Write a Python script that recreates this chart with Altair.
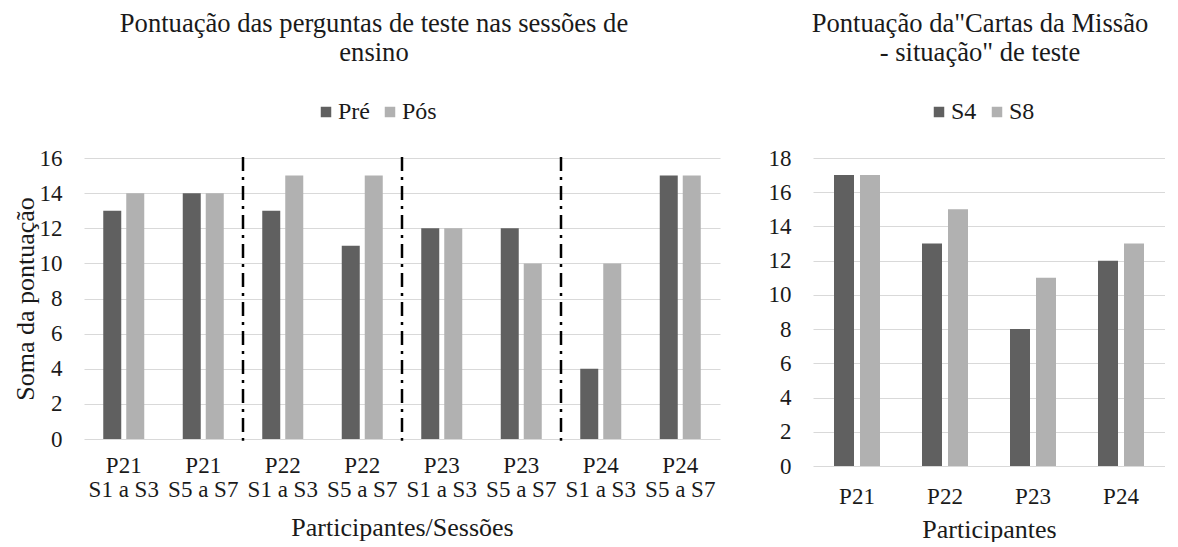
import altair as alt
import pandas as pd

# ---------------- data ----------------
left_categories = ["P21|S1 a S3", "P21|S5 a S7", "P22|S1 a S3", "P22|S5 a S7",
                   "P23|S1 a S3", "P23|S5 a S7", "P24|S1 a S3", "P24|S5 a S7"]
left_series = ["Pré", "Pós"]
pre_scores = [13, 14, 13, 11, 12, 12, 4, 15]
pos_scores = [14, 14, 15, 15, 12, 10, 10, 15]
divider_after = ["P21|S5 a S7", "P22|S5 a S7", "P23|S5 a S7"]

right_categories = ["P21", "P22", "P23", "P24"]
right_series = ["S4", "S8"]
s4_scores = [17, 13, 8, 12]
s8_scores = [17, 15, 11, 13]

left_y_ticks = [0, 2, 4, 6, 8, 10, 12, 14, 16]
right_y_ticks = [0, 2, 4, 6, 8, 10, 12, 14, 16, 18]

left_title = ["Pontuação das perguntas de teste nas sessões de", "ensino"]
right_title = ["Pontuação da\"Cartas da Missão", "- situação\" de teste"]

# ---------------- tables ----------------
pre_df = pd.DataFrame({"cat": left_categories, "serie": "Pré", "value": pre_scores})
pos_df = pd.DataFrame({"cat": left_categories, "serie": "Pós", "value": pos_scores})
div_df = pd.DataFrame({"cat": divider_after})
s4_df = pd.DataFrame({"cat": right_categories, "serie": "S4", "value": s4_scores})
s8_df = pd.DataFrame({"cat": right_categories, "serie": "S8", "value": s8_scores})

FONT = "Liberation Serif, Times New Roman, Times, serif"
DARK = "#606060"
LIGHT = "#b1b1b1"
TXT = "#1a1a1a"
GRID = "#d9d9d9"
FS = 23        # tick / category labels
LFS = 24       # legend labels
AFS = 26       # axis titles
TFS = 26.6     # chart titles

L_W, L_H = 636, 281
R_W, R_H = 352, 308
L_STEP = L_W / 8
PI = 0.5
EDGE_SHIFT = L_STEP * PI / 2


def y_axis(values, title):
    return alt.Axis(values=values, title=title, grid=True, gridColor=GRID, gridWidth=1,
                    domain=False, ticks=False, tickSize=0, labelPadding=22,
                    labelOverlap=False, labelFont=FONT, labelFontSize=FS, labelColor=TXT,
                    titleFont=FONT, titleFontSize=AFS, titleFontWeight="normal",
                    titleColor=TXT, titlePadding=1)


def x_axis(title, label_pad, title_pad, multiline):
    extra = {"labelExpr": "split(datum.label, '|')", "labelLineHeight": 24} if multiline else {}
    return alt.Axis(title=title, labelAngle=0, domain=False, ticks=False, tickSize=0,
                    labelPadding=label_pad, labelFont=FONT, labelFontSize=FS,
                    labelColor=TXT, titleFont=FONT, titleFontSize=AFS,
                    titleFontWeight="normal", titleColor=TXT, titlePadding=title_pad,
                    **extra)


def legend(x, y):
    return alt.Legend(orient="none", legendX=x, legendY=y, direction="horizontal",
                      title=None, symbolType="square", symbolSize=110,
                      symbolStrokeWidth=0, labelFont=FONT, labelFontSize=LFS,
                      labelColor=TXT, labelOffset=0, columnPadding=8)


def title(text, dx):
    return alt.TitleParams(text, font=FONT, fontSize=TFS, fontWeight="normal",
                           color=TXT, anchor="middle", dx=dx, offset=33, lineHeight=29)


def bar_layer(df, cats, series, domain_max, ticks, ytitle, xax, leg, bw, shift):
    return alt.Chart(df).mark_bar(width=bw, xOffset=shift).encode(
        x=alt.X("cat:N", sort=cats,
                scale=alt.Scale(domain=cats, paddingInner=PI, paddingOuter=PI / 2),
                axis=xax),
        y=alt.Y("value:Q", scale=alt.Scale(domain=[0, domain_max], nice=False),
                axis=y_axis(ticks, ytitle)),
        color=alt.Color("serie:N", sort=series,
                        scale=alt.Scale(domain=series, range=[DARK, LIGHT]),
                        legend=leg),
    )


# ---------------- left chart ----------------
lxa = x_axis("Participantes/Sessões", 15, 13, True)
left_pre = bar_layer(pre_df, left_categories, left_series, 16, left_y_ticks,
                     "Soma da pontuação", lxa, legend(230, -58), 18, -11.5)
left_pos = bar_layer(pos_df, left_categories, left_series, 16, left_y_ticks,
                     "Soma da pontuação", lxa, legend(230, -58), 18, 11.5)

left_rules = alt.Chart(div_df).mark_rule(color="black", strokeWidth=2.5,
                                         strokeDash=[14, 6, 3, 6],
                                         xOffset=EDGE_SHIFT).encode(
    x=alt.X("cat:N", sort=left_categories, bandPosition=1,
            scale=alt.Scale(domain=left_categories, paddingInner=PI, paddingOuter=PI / 2),
            axis=lxa),
    y=alt.YDatum(16.05, axis=y_axis(left_y_ticks, "Soma da pontuação")),
    y2=alt.datum(-0.1),
)

left = alt.layer(left_pre, left_pos, left_rules).properties(
    width=L_W, height=L_H, title=title(left_title, -28))

# ---------------- right chart ----------------
rxa = x_axis("Participantes", 19, 8, False)
right_s4 = bar_layer(s4_df, right_categories, right_series, 18, right_y_ticks,
                     None, rxa, legend(114, -58), 20, -13)
right_s8 = bar_layer(s8_df, right_categories, right_series, 18, right_y_ticks,
                     None, rxa, legend(114, -58), 20, 13)

right = alt.layer(right_s4, right_s8).properties(
    width=R_W, height=R_H, title=title(right_title, -9))

chart = alt.hconcat(left, right, spacing=48).resolve_scale(
    color="independent", x="independent", y="independent"
).properties(
    padding={"left": 4, "top": 3, "right": 0, "bottom": 0}
).configure(font=FONT).configure_view(stroke=None)

chart.save("out.html", embed_options={"renderer": "svg", "actions": False})
